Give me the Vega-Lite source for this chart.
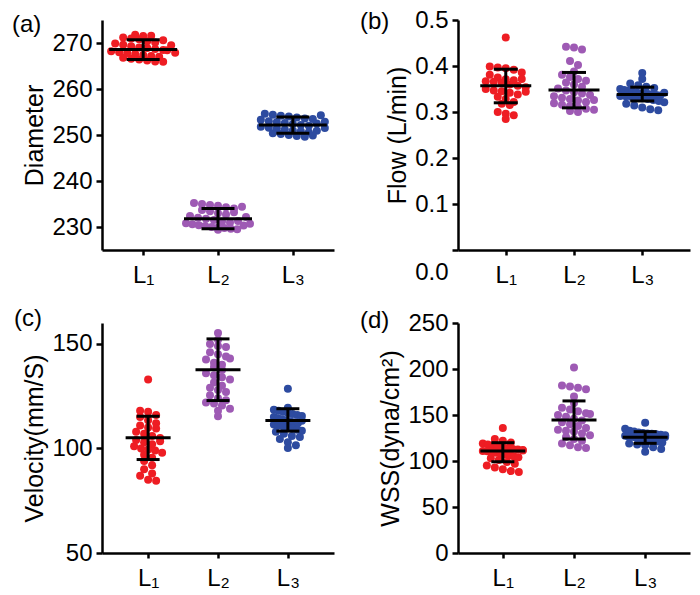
{
"$schema": "https://vega.github.io/schema/vega-lite/v6.json",
"padding": {"left": 12, "top": 8, "right": 5, "bottom": 5},
"background": "white",
"columns": 2,
"bounds": "flush",
"spacing": {"column": 124, "row": 73},
"config": {
  "view": {"stroke": null},
  "font": "Liberation Sans",
  "axis": {"grid": false, "domainColor": "black", "domainWidth": 2.5, "tickColor": "black", "tickWidth": 2.5, "tickSize": 6, "labelFont": "Liberation Sans", "labelFontSize": 24, "labelColor": "black", "titleFont": "Liberation Sans", "titleFontSize": 25, "titleFontWeight": "normal", "titleColor": "black", "labelPadding": 4},
  "axisX": {"labelAngle": 0, "labelPadding": 8, "tickSize": 5},
  "title": {"font": "Liberation Sans", "fontSize": 24, "fontWeight": "normal", "color": "black", "anchor": "start", "frame": "group", "baseline": "middle"}
},
"datasets": {
"pts": [
{"p":"a","g":"L₁","v":271.8},{"p":"a","g":"L₁","v":271.5},{"p":"a","g":"L₁","v":271.2},{"p":"a","g":"L₁","v":271.6},{"p":"a","g":"L₁","v":271.0},{"p":"a","g":"L₁","v":270.8},{"p":"a","g":"L₁","v":270.4},{"p":"a","g":"L₁","v":270.1},{"p":"a","g":"L₁","v":269.9},{"p":"a","g":"L₁","v":269.6},{"p":"a","g":"L₁","v":269.3},{"p":"a","g":"L₁","v":269.0},{"p":"a","g":"L₁","v":268.9},{"p":"a","g":"L₁","v":268.7},{"p":"a","g":"L₁","v":268.5},{"p":"a","g":"L₁","v":268.2},{"p":"a","g":"L₁","v":268.0},{"p":"a","g":"L₁","v":267.8},{"p":"a","g":"L₁","v":267.6},{"p":"a","g":"L₁","v":267.4},{"p":"a","g":"L₁","v":267.2},{"p":"a","g":"L₁","v":267.0},{"p":"a","g":"L₁","v":266.8},{"p":"a","g":"L₁","v":266.6},{"p":"a","g":"L₁","v":266.4},{"p":"a","g":"L₁","v":266.2},{"p":"a","g":"L₁","v":266.0},{"p":"a","g":"L₁","v":265.9},{"p":"a","g":"L₁","v":268.4},{"p":"a","g":"L₁","v":269.5},{"p":"a","g":"L₁","v":270.6},{"p":"a","g":"L₁","v":267.9},
{"p":"a","g":"L₂","v":235.2},{"p":"a","g":"L₂","v":235.0},{"p":"a","g":"L₂","v":234.8},{"p":"a","g":"L₂","v":234.6},{"p":"a","g":"L₂","v":234.3},{"p":"a","g":"L₂","v":234.0},{"p":"a","g":"L₂","v":233.7},{"p":"a","g":"L₂","v":233.4},{"p":"a","g":"L₂","v":233.0},{"p":"a","g":"L₂","v":232.7},{"p":"a","g":"L₂","v":232.4},{"p":"a","g":"L₂","v":232.0},{"p":"a","g":"L₂","v":231.8},{"p":"a","g":"L₂","v":231.5},{"p":"a","g":"L₂","v":231.2},{"p":"a","g":"L₂","v":231.0},{"p":"a","g":"L₂","v":230.8},{"p":"a","g":"L₂","v":230.6},{"p":"a","g":"L₂","v":230.4},{"p":"a","g":"L₂","v":230.2},{"p":"a","g":"L₂","v":230.0},{"p":"a","g":"L₂","v":229.9},{"p":"a","g":"L₂","v":229.8},{"p":"a","g":"L₂","v":229.6},{"p":"a","g":"L₂","v":229.5},{"p":"a","g":"L₂","v":229.4},{"p":"a","g":"L₂","v":230.3},{"p":"a","g":"L₂","v":230.7},{"p":"a","g":"L₂","v":231.3},{"p":"a","g":"L₂","v":232.2},{"p":"a","g":"L₂","v":233.2},{"p":"a","g":"L₂","v":234.4},
{"p":"a","g":"L₃","v":254.6},{"p":"a","g":"L₃","v":254.4},{"p":"a","g":"L₃","v":254.2},{"p":"a","g":"L₃","v":254.0},{"p":"a","g":"L₃","v":253.8},{"p":"a","g":"L₃","v":253.6},{"p":"a","g":"L₃","v":253.3},{"p":"a","g":"L₃","v":253.0},{"p":"a","g":"L₃","v":252.8},{"p":"a","g":"L₃","v":252.6},{"p":"a","g":"L₃","v":252.4},{"p":"a","g":"L₃","v":252.2},{"p":"a","g":"L₃","v":252.0},{"p":"a","g":"L₃","v":251.8},{"p":"a","g":"L₃","v":251.6},{"p":"a","g":"L₃","v":251.4},{"p":"a","g":"L₃","v":251.2},{"p":"a","g":"L₃","v":251.0},{"p":"a","g":"L₃","v":250.8},{"p":"a","g":"L₃","v":250.6},{"p":"a","g":"L₃","v":250.4},{"p":"a","g":"L₃","v":250.2},{"p":"a","g":"L₃","v":250.0},{"p":"a","g":"L₃","v":249.8},{"p":"a","g":"L₃","v":249.6},{"p":"a","g":"L₃","v":250.9},{"p":"a","g":"L₃","v":251.5},{"p":"a","g":"L₃","v":252.5},{"p":"a","g":"L₃","v":253.5},{"p":"a","g":"L₃","v":254.3},{"p":"a","g":"L₃","v":249.9},{"p":"a","g":"L₃","v":252.9},
{"p":"b","g":"L₁","v":0.462},{"p":"b","g":"L₁","v":0.399},{"p":"b","g":"L₁","v":0.397},{"p":"b","g":"L₁","v":0.395},{"p":"b","g":"L₁","v":0.392},{"p":"b","g":"L₁","v":0.386},{"p":"b","g":"L₁","v":0.381},{"p":"b","g":"L₁","v":0.375},{"p":"b","g":"L₁","v":0.371},{"p":"b","g":"L₁","v":0.369},{"p":"b","g":"L₁","v":0.367},{"p":"b","g":"L₁","v":0.366},{"p":"b","g":"L₁","v":0.364},{"p":"b","g":"L₁","v":0.360},{"p":"b","g":"L₁","v":0.357},{"p":"b","g":"L₁","v":0.354},{"p":"b","g":"L₁","v":0.350},{"p":"b","g":"L₁","v":0.347},{"p":"b","g":"L₁","v":0.345},{"p":"b","g":"L₁","v":0.342},{"p":"b","g":"L₁","v":0.338},{"p":"b","g":"L₁","v":0.333},{"p":"b","g":"L₁","v":0.328},{"p":"b","g":"L₁","v":0.322},{"p":"b","g":"L₁","v":0.318},{"p":"b","g":"L₁","v":0.315},{"p":"b","g":"L₁","v":0.300},{"p":"b","g":"L₁","v":0.296},{"p":"b","g":"L₁","v":0.293},{"p":"b","g":"L₁","v":0.285},{"p":"b","g":"L₁","v":0.372},{"p":"b","g":"L₁","v":0.344},
{"p":"b","g":"L₂","v":0.442},{"p":"b","g":"L₂","v":0.440},{"p":"b","g":"L₂","v":0.436},{"p":"b","g":"L₂","v":0.411},{"p":"b","g":"L₂","v":0.402},{"p":"b","g":"L₂","v":0.388},{"p":"b","g":"L₂","v":0.381},{"p":"b","g":"L₂","v":0.376},{"p":"b","g":"L₂","v":0.372},{"p":"b","g":"L₂","v":0.368},{"p":"b","g":"L₂","v":0.364},{"p":"b","g":"L₂","v":0.360},{"p":"b","g":"L₂","v":0.355},{"p":"b","g":"L₂","v":0.351},{"p":"b","g":"L₂","v":0.347},{"p":"b","g":"L₂","v":0.343},{"p":"b","g":"L₂","v":0.340},{"p":"b","g":"L₂","v":0.337},{"p":"b","g":"L₂","v":0.334},{"p":"b","g":"L₂","v":0.331},{"p":"b","g":"L₂","v":0.328},{"p":"b","g":"L₂","v":0.325},{"p":"b","g":"L₂","v":0.322},{"p":"b","g":"L₂","v":0.319},{"p":"b","g":"L₂","v":0.316},{"p":"b","g":"L₂","v":0.313},{"p":"b","g":"L₂","v":0.310},{"p":"b","g":"L₂","v":0.307},{"p":"b","g":"L₂","v":0.305},{"p":"b","g":"L₂","v":0.302},{"p":"b","g":"L₂","v":0.300},{"p":"b","g":"L₂","v":0.326},
{"p":"b","g":"L₃","v":0.385},{"p":"b","g":"L₃","v":0.372},{"p":"b","g":"L₃","v":0.362},{"p":"b","g":"L₃","v":0.358},{"p":"b","g":"L₃","v":0.355},{"p":"b","g":"L₃","v":0.352},{"p":"b","g":"L₃","v":0.350},{"p":"b","g":"L₃","v":0.348},{"p":"b","g":"L₃","v":0.346},{"p":"b","g":"L₃","v":0.345},{"p":"b","g":"L₃","v":0.343},{"p":"b","g":"L₃","v":0.341},{"p":"b","g":"L₃","v":0.340},{"p":"b","g":"L₃","v":0.339},{"p":"b","g":"L₃","v":0.338},{"p":"b","g":"L₃","v":0.337},{"p":"b","g":"L₃","v":0.336},{"p":"b","g":"L₃","v":0.335},{"p":"b","g":"L₃","v":0.334},{"p":"b","g":"L₃","v":0.333},{"p":"b","g":"L₃","v":0.331},{"p":"b","g":"L₃","v":0.330},{"p":"b","g":"L₃","v":0.328},{"p":"b","g":"L₃","v":0.326},{"p":"b","g":"L₃","v":0.324},{"p":"b","g":"L₃","v":0.321},{"p":"b","g":"L₃","v":0.318},{"p":"b","g":"L₃","v":0.314},{"p":"b","g":"L₃","v":0.310},{"p":"b","g":"L₃","v":0.306},{"p":"b","g":"L₃","v":0.304},{"p":"b","g":"L₃","v":0.342},
{"p":"c","g":"L₁","v":133},{"p":"c","g":"L₁","v":118},{"p":"c","g":"L₁","v":117.5},{"p":"c","g":"L₁","v":116},{"p":"c","g":"L₁","v":115},{"p":"c","g":"L₁","v":113.5},{"p":"c","g":"L₁","v":112},{"p":"c","g":"L₁","v":111},{"p":"c","g":"L₁","v":110},{"p":"c","g":"L₁","v":109.5},{"p":"c","g":"L₁","v":108},{"p":"c","g":"L₁","v":107},{"p":"c","g":"L₁","v":106},{"p":"c","g":"L₁","v":105},{"p":"c","g":"L₁","v":104},{"p":"c","g":"L₁","v":103},{"p":"c","g":"L₁","v":102},{"p":"c","g":"L₁","v":101},{"p":"c","g":"L₁","v":100},{"p":"c","g":"L₁","v":99.5},{"p":"c","g":"L₁","v":99},{"p":"c","g":"L₁","v":98},{"p":"c","g":"L₁","v":97},{"p":"c","g":"L₁","v":95.5},{"p":"c","g":"L₁","v":94},{"p":"c","g":"L₁","v":92},{"p":"c","g":"L₁","v":90},{"p":"c","g":"L₁","v":88},{"p":"c","g":"L₁","v":87},{"p":"c","g":"L₁","v":85},{"p":"c","g":"L₁","v":84.5},{"p":"c","g":"L₁","v":103.5},
{"p":"c","g":"L₂","v":155.2},{"p":"c","g":"L₂","v":152},{"p":"c","g":"L₂","v":150},{"p":"c","g":"L₂","v":149},{"p":"c","g":"L₂","v":148.5},{"p":"c","g":"L₂","v":146},{"p":"c","g":"L₂","v":145},{"p":"c","g":"L₂","v":144},{"p":"c","g":"L₂","v":142.5},{"p":"c","g":"L₂","v":141},{"p":"c","g":"L₂","v":140},{"p":"c","g":"L₂","v":139},{"p":"c","g":"L₂","v":137.5},{"p":"c","g":"L₂","v":136},{"p":"c","g":"L₂","v":135},{"p":"c","g":"L₂","v":134},{"p":"c","g":"L₂","v":133},{"p":"c","g":"L₂","v":131.5},{"p":"c","g":"L₂","v":130},{"p":"c","g":"L₂","v":129},{"p":"c","g":"L₂","v":128},{"p":"c","g":"L₂","v":127},{"p":"c","g":"L₂","v":125.5},{"p":"c","g":"L₂","v":124},{"p":"c","g":"L₂","v":123},{"p":"c","g":"L₂","v":122},{"p":"c","g":"L₂","v":121.5},{"p":"c","g":"L₂","v":120.5},{"p":"c","g":"L₂","v":119},{"p":"c","g":"L₂","v":118},{"p":"c","g":"L₂","v":115.4},{"p":"c","g":"L₂","v":143},
{"p":"c","g":"L₃","v":128.5},{"p":"c","g":"L₃","v":119.5},{"p":"c","g":"L₃","v":118.5},{"p":"c","g":"L₃","v":118},{"p":"c","g":"L₃","v":117.5},{"p":"c","g":"L₃","v":117},{"p":"c","g":"L₃","v":116.5},{"p":"c","g":"L₃","v":116},{"p":"c","g":"L₃","v":115.5},{"p":"c","g":"L₃","v":115},{"p":"c","g":"L₃","v":114.5},{"p":"c","g":"L₃","v":114},{"p":"c","g":"L₃","v":113.5},{"p":"c","g":"L₃","v":113},{"p":"c","g":"L₃","v":112.5},{"p":"c","g":"L₃","v":112},{"p":"c","g":"L₃","v":111.5},{"p":"c","g":"L₃","v":111},{"p":"c","g":"L₃","v":110.5},{"p":"c","g":"L₃","v":110},{"p":"c","g":"L₃","v":109.5},{"p":"c","g":"L₃","v":109},{"p":"c","g":"L₃","v":108.5},{"p":"c","g":"L₃","v":108},{"p":"c","g":"L₃","v":107},{"p":"c","g":"L₃","v":106},{"p":"c","g":"L₃","v":105.5},{"p":"c","g":"L₃","v":104.5},{"p":"c","g":"L₃","v":103},{"p":"c","g":"L₃","v":101.5},{"p":"c","g":"L₃","v":100.2},{"p":"c","g":"L₃","v":113.2},
{"p":"d","g":"L₁","v":136},{"p":"d","g":"L₁","v":124},{"p":"d","g":"L₁","v":122},{"p":"d","g":"L₁","v":120},{"p":"d","g":"L₁","v":119},{"p":"d","g":"L₁","v":118},{"p":"d","g":"L₁","v":117},{"p":"d","g":"L₁","v":116},{"p":"d","g":"L₁","v":115},{"p":"d","g":"L₁","v":114},{"p":"d","g":"L₁","v":113},{"p":"d","g":"L₁","v":112.5},{"p":"d","g":"L₁","v":112},{"p":"d","g":"L₁","v":111},{"p":"d","g":"L₁","v":110.5},{"p":"d","g":"L₁","v":110},{"p":"d","g":"L₁","v":109},{"p":"d","g":"L₁","v":108},{"p":"d","g":"L₁","v":107},{"p":"d","g":"L₁","v":106},{"p":"d","g":"L₁","v":105},{"p":"d","g":"L₁","v":104},{"p":"d","g":"L₁","v":103},{"p":"d","g":"L₁","v":101},{"p":"d","g":"L₁","v":99},{"p":"d","g":"L₁","v":97},{"p":"d","g":"L₁","v":95},{"p":"d","g":"L₁","v":93},{"p":"d","g":"L₁","v":91},{"p":"d","g":"L₁","v":89},{"p":"d","g":"L₁","v":88},{"p":"d","g":"L₁","v":111.5},
{"p":"d","g":"L₂","v":201.6},{"p":"d","g":"L₂","v":182},{"p":"d","g":"L₂","v":181},{"p":"d","g":"L₂","v":179.5},{"p":"d","g":"L₂","v":178},{"p":"d","g":"L₂","v":170},{"p":"d","g":"L₂","v":163},{"p":"d","g":"L₂","v":158},{"p":"d","g":"L₂","v":156},{"p":"d","g":"L₂","v":154},{"p":"d","g":"L₂","v":152},{"p":"d","g":"L₂","v":150},{"p":"d","g":"L₂","v":148},{"p":"d","g":"L₂","v":146},{"p":"d","g":"L₂","v":144},{"p":"d","g":"L₂","v":142},{"p":"d","g":"L₂","v":140},{"p":"d","g":"L₂","v":138},{"p":"d","g":"L₂","v":136},{"p":"d","g":"L₂","v":134},{"p":"d","g":"L₂","v":133},{"p":"d","g":"L₂","v":132},{"p":"d","g":"L₂","v":130},{"p":"d","g":"L₂","v":128},{"p":"d","g":"L₂","v":126},{"p":"d","g":"L₂","v":124},{"p":"d","g":"L₂","v":122},{"p":"d","g":"L₂","v":119},{"p":"d","g":"L₂","v":117},{"p":"d","g":"L₂","v":115},{"p":"d","g":"L₂","v":114},{"p":"d","g":"L₂","v":151},
{"p":"d","g":"L₃","v":141.7},{"p":"d","g":"L₃","v":135},{"p":"d","g":"L₃","v":133},{"p":"d","g":"L₃","v":132},{"p":"d","g":"L₃","v":131},{"p":"d","g":"L₃","v":130.5},{"p":"d","g":"L₃","v":130},{"p":"d","g":"L₃","v":129.5},{"p":"d","g":"L₃","v":129},{"p":"d","g":"L₃","v":128.5},{"p":"d","g":"L₃","v":128},{"p":"d","g":"L₃","v":127.5},{"p":"d","g":"L₃","v":127},{"p":"d","g":"L₃","v":126.5},{"p":"d","g":"L₃","v":126},{"p":"d","g":"L₃","v":125.5},{"p":"d","g":"L₃","v":125},{"p":"d","g":"L₃","v":124.5},{"p":"d","g":"L₃","v":124},{"p":"d","g":"L₃","v":123.5},{"p":"d","g":"L₃","v":123},{"p":"d","g":"L₃","v":122.5},{"p":"d","g":"L₃","v":122},{"p":"d","g":"L₃","v":121},{"p":"d","g":"L₃","v":120},{"p":"d","g":"L₃","v":119},{"p":"d","g":"L₃","v":118},{"p":"d","g":"L₃","v":117},{"p":"d","g":"L₃","v":115},{"p":"d","g":"L₃","v":113},{"p":"d","g":"L₃","v":110},{"p":"d","g":"L₃","v":126.2}
],
"sum": [
{"p":"a","g":"L₁","m":268.6,"lo":266.4,"hi":270.7},{"p":"a","g":"L₂","m":231.8,"lo":229.6,"hi":234.0},{"p":"a","g":"L₃","m":252.2,"lo":250.4,"hi":253.9},
{"p":"b","g":"L₁","m":0.357,"lo":0.320,"hi":0.393},{"p":"b","g":"L₂","m":0.348,"lo":0.309,"hi":0.386},{"p":"b","g":"L₃","m":0.338,"lo":0.324,"hi":0.354},
{"p":"c","g":"L₁","m":105.1,"lo":94.7,"hi":115.4},{"p":"c","g":"L₂","m":137.7,"lo":122.9,"hi":152.4},{"p":"c","g":"L₃","m":113.4,"lo":108.3,"hi":119.0},
{"p":"d","g":"L₁","m":110.8,"lo":99.2,"hi":119.9},{"p":"d","g":"L₂","m":144.6,"lo":123.9,"hi":165.3},{"p":"d","g":"L₃","m":125.7,"lo":119.2,"hi":131.9}
]
},
"concat": [
{
 "width": 232, "height": 230,
 "title": {"text": "(a)", "dx": -90, "offset": -17},
 "layer": [
  {"data": {"name": "pts"},
   "transform": [{"filter": "datum.p === 'a'"}, {"bin": {"step": 1.5}, "field": "v", "as": "bb"}, {"window": [{"op": "row_number", "as": "i"}, {"op": "count", "as": "n"}], "groupby": ["g", "bb"], "frame": [null, null]}, {"calculate": "(datum.i - (datum.n + 1) / 2) * min(1, 8 / max(1, datum.n - 1))", "as": "off"}],
   "mark": {"type": "circle", "size": 64, "opacity": 1},
   "encoding": {
    "x": {"field": "g", "type": "nominal", "scale": {"type": "point", "padding": 0.55, "domain": ["L₁", "L₂", "L₃"]}, "axis": {"title": null}},
    "xOffset": {"field": "off", "type": "quantitative", "scale": {"domain": [-1, 1], "range": [-8, 8], "zero": false, "nice": false}},
    "y": {"field": "v", "type": "quantitative", "scale": {"domain": [225, 275], "nice": false, "zero": false}, "axis": {"title": "Diameter", "values": [230, 240, 250, 260, 270]}},
    "color": {"field": "g", "type": "nominal", "scale": {"domain": ["L₁", "L₂", "L₃"], "range": ["#EE1D23", "#9E5AB4", "#2D4BA0"]}, "legend": null}
   }},
  {"data": {"name": "sum"}, "transform": [{"filter": "datum.p === 'a'"}], "mark": {"type": "rule", "color": "black", "strokeWidth": 3}, "encoding": {"x": {"field": "g", "type": "nominal"}, "y": {"field": "lo", "type": "quantitative"}, "y2": {"field": "hi"}}},
  {"data": {"name": "sum"}, "transform": [{"filter": "datum.p === 'a'"}], "mark": {"type": "tick", "color": "black", "thickness": 3, "size": 68, "opacity": 1}, "encoding": {"x": {"field": "g", "type": "nominal"}, "y": {"field": "m", "type": "quantitative"}}},
  {"data": {"name": "sum"}, "transform": [{"filter": "datum.p === 'a'"}], "mark": {"type": "tick", "color": "black", "thickness": 3, "size": 33, "opacity": 1}, "encoding": {"x": {"field": "g", "type": "nominal"}, "y": {"field": "lo", "type": "quantitative"}}},
  {"data": {"name": "sum"}, "transform": [{"filter": "datum.p === 'a'"}], "mark": {"type": "tick", "color": "black", "thickness": 3, "size": 33, "opacity": 1}, "encoding": {"x": {"field": "g", "type": "nominal"}, "y": {"field": "hi", "type": "quantitative"}}}
 ]
},
{
 "width": 232, "height": 230,
 "title": {"text": "(b)", "dx": -98, "offset": -26},
 "layer": [
  {"data": {"name": "pts"},
   "transform": [{"filter": "datum.p === 'b'"}, {"bin": {"step": 0.016}, "field": "v", "as": "bb"}, {"window": [{"op": "row_number", "as": "i"}, {"op": "count", "as": "n"}], "groupby": ["g", "bb"], "frame": [null, null]}, {"calculate": "(datum.i - (datum.n + 1) / 2) * min(1, 5.5 / max(1, datum.n - 1))", "as": "off"}],
   "mark": {"type": "circle", "size": 64, "opacity": 1},
   "encoding": {
    "x": {"field": "g", "type": "nominal", "scale": {"type": "point", "padding": 0.7, "domain": ["L₁", "L₂", "L₃"]}, "axis": {"title": null}},
    "xOffset": {"field": "off", "type": "quantitative", "scale": {"domain": [-1, 1], "range": [-8, 8], "zero": false, "nice": false}},
    "y": {"field": "v", "type": "quantitative", "scale": {"domain": [0, 0.5], "nice": false}, "axis": {"title": "Flow (L/min)", "values": [0, 0.1, 0.2, 0.3, 0.4, 0.5], "format": ".1f", "labelOffset": {"condition": {"test": "datum.value === 0", "value": 22}, "value": 0}}},
    "color": {"field": "g", "type": "nominal", "scale": {"domain": ["L₁", "L₂", "L₃"], "range": ["#EE1D23", "#9E5AB4", "#2D4BA0"]}, "legend": null}
   }},
  {"data": {"name": "sum"}, "transform": [{"filter": "datum.p === 'b'"}], "mark": {"type": "rule", "color": "black", "strokeWidth": 3}, "encoding": {"x": {"field": "g", "type": "nominal"}, "y": {"field": "lo", "type": "quantitative"}, "y2": {"field": "hi"}}},
  {"data": {"name": "sum"}, "transform": [{"filter": "datum.p === 'b'"}], "mark": {"type": "tick", "color": "black", "thickness": 3, "size": 51, "opacity": 1}, "encoding": {"x": {"field": "g", "type": "nominal"}, "y": {"field": "m", "type": "quantitative"}}},
  {"data": {"name": "sum"}, "transform": [{"filter": "datum.p === 'b'"}], "mark": {"type": "tick", "color": "black", "thickness": 3, "size": 24, "opacity": 1}, "encoding": {"x": {"field": "g", "type": "nominal"}, "y": {"field": "lo", "type": "quantitative"}}},
  {"data": {"name": "sum"}, "transform": [{"filter": "datum.p === 'b'"}], "mark": {"type": "tick", "color": "black", "thickness": 3, "size": 24, "opacity": 1}, "encoding": {"x": {"field": "g", "type": "nominal"}, "y": {"field": "hi", "type": "quantitative"}}}
 ]
},
{
 "width": 232, "height": 230,
 "title": {"text": "(c)", "dx": -88, "offset": -8},
 "layer": [
  {"data": {"name": "pts"},
   "transform": [{"filter": "datum.p === 'c'"}, {"bin": {"step": 3.5}, "field": "v", "as": "bb"}, {"window": [{"op": "row_number", "as": "i"}, {"op": "count", "as": "n"}], "groupby": ["g", "bb"], "frame": [null, null]}, {"calculate": "(datum.i - (datum.n + 1) / 2) * min(1, 3.5 / max(1, datum.n - 1))", "as": "off"}],
   "mark": {"type": "circle", "size": 64, "opacity": 1},
   "encoding": {
    "x": {"field": "g", "type": "nominal", "scale": {"type": "point", "padding": 0.66, "domain": ["L₁", "L₂", "L₃"]}, "axis": {"title": null}},
    "xOffset": {"field": "off", "type": "quantitative", "scale": {"domain": [-1, 1], "range": [-8, 8], "zero": false, "nice": false}},
    "y": {"field": "v", "type": "quantitative", "scale": {"domain": [50, 160], "nice": false, "zero": false}, "axis": {"title": "Velocity(mm/S)", "values": [50, 100, 150]}},
    "color": {"field": "g", "type": "nominal", "scale": {"domain": ["L₁", "L₂", "L₃"], "range": ["#EE1D23", "#9E5AB4", "#2D4BA0"]}, "legend": null}
   }},
  {"data": {"name": "sum"}, "transform": [{"filter": "datum.p === 'c'"}], "mark": {"type": "rule", "color": "black", "strokeWidth": 3}, "encoding": {"x": {"field": "g", "type": "nominal"}, "y": {"field": "lo", "type": "quantitative"}, "y2": {"field": "hi"}}},
  {"data": {"name": "sum"}, "transform": [{"filter": "datum.p === 'c'"}], "mark": {"type": "tick", "color": "black", "thickness": 3, "size": 45, "opacity": 1}, "encoding": {"x": {"field": "g", "type": "nominal"}, "y": {"field": "m", "type": "quantitative"}}},
  {"data": {"name": "sum"}, "transform": [{"filter": "datum.p === 'c'"}], "mark": {"type": "tick", "color": "black", "thickness": 3, "size": 23, "opacity": 1}, "encoding": {"x": {"field": "g", "type": "nominal"}, "y": {"field": "lo", "type": "quantitative"}}},
  {"data": {"name": "sum"}, "transform": [{"filter": "datum.p === 'c'"}], "mark": {"type": "tick", "color": "black", "thickness": 3, "size": 23, "opacity": 1}, "encoding": {"x": {"field": "g", "type": "nominal"}, "y": {"field": "hi", "type": "quantitative"}}}
 ]
},
{
 "width": 232, "height": 230,
 "title": {"text": "(d)", "dx": -98, "offset": -22},
 "layer": [
  {"data": {"name": "pts"},
   "transform": [{"filter": "datum.p === 'd'"}, {"bin": {"step": 8}, "field": "v", "as": "bb"}, {"window": [{"op": "row_number", "as": "i"}, {"op": "count", "as": "n"}], "groupby": ["g", "bb"], "frame": [null, null]}, {"calculate": "(datum.i - (datum.n + 1) / 2) * min(1, 5 / max(1, datum.n - 1))", "as": "off"}],
   "mark": {"type": "circle", "size": 64, "opacity": 1},
   "encoding": {
    "x": {"field": "g", "type": "nominal", "scale": {"type": "point", "padding": 0.63, "domain": ["L₁", "L₂", "L₃"]}, "axis": {"title": null}},
    "xOffset": {"field": "off", "type": "quantitative", "scale": {"domain": [-1, 1], "range": [-8, 8], "zero": false, "nice": false}},
    "y": {"field": "v", "type": "quantitative", "scale": {"domain": [0, 250], "nice": false}, "axis": {"title": "WSS(dyna/cm²)", "values": [0, 50, 100, 150, 200, 250]}},
    "color": {"field": "g", "type": "nominal", "scale": {"domain": ["L₁", "L₂", "L₃"], "range": ["#EE1D23", "#9E5AB4", "#2D4BA0"]}, "legend": null}
   }},
  {"data": {"name": "sum"}, "transform": [{"filter": "datum.p === 'd'"}], "mark": {"type": "rule", "color": "black", "strokeWidth": 3}, "encoding": {"x": {"field": "g", "type": "nominal"}, "y": {"field": "lo", "type": "quantitative"}, "y2": {"field": "hi"}}},
  {"data": {"name": "sum"}, "transform": [{"filter": "datum.p === 'd'"}], "mark": {"type": "tick", "color": "black", "thickness": 3, "size": 45, "opacity": 1}, "encoding": {"x": {"field": "g", "type": "nominal"}, "y": {"field": "m", "type": "quantitative"}}},
  {"data": {"name": "sum"}, "transform": [{"filter": "datum.p === 'd'"}], "mark": {"type": "tick", "color": "black", "thickness": 3, "size": 23, "opacity": 1}, "encoding": {"x": {"field": "g", "type": "nominal"}, "y": {"field": "lo", "type": "quantitative"}}},
  {"data": {"name": "sum"}, "transform": [{"filter": "datum.p === 'd'"}], "mark": {"type": "tick", "color": "black", "thickness": 3, "size": 23, "opacity": 1}, "encoding": {"x": {"field": "g", "type": "nominal"}, "y": {"field": "hi", "type": "quantitative"}}}
 ]
}
]
}
